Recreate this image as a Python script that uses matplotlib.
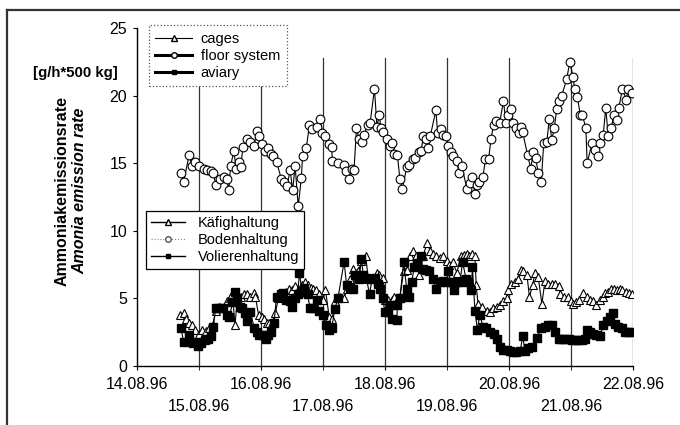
import matplotlib
matplotlib.use("Agg")
import matplotlib.pyplot as plt
from matplotlib.lines import Line2D

plt.rcParams['font.family'] = ['Liberation Sans', 'DejaVu Sans']

# day tick positions (day of August 1996) and labels
day_ticks = [14, 15, 16, 17, 18, 19, 20, 21, 22]
day_labels = ['14.08.96', '15.08.96', '16.08.96', '17.08.96', '18.08.96',
              '19.08.96', '20.08.96', '21.08.96', '22.08.96']
y_ticks = [0, 5, 10, 15, 20, 25]

# floor system (Bodenhaltung)
floor_x = [14.71, 14.75, 14.84, 14.89, 14.94, 15.00, 15.08, 15.13, 15.19, 15.23,
           15.27, 15.34, 15.40, 15.45, 15.48, 15.51, 15.56, 15.60, 15.64, 15.67,
           15.71, 15.77, 15.83, 15.89, 15.93, 15.97, 16.02, 16.06, 16.12, 16.16,
           16.20, 16.25, 16.33, 16.37, 16.42, 16.47, 16.51, 16.55, 16.60, 16.65,
           16.67, 16.73, 16.78, 16.83, 16.90, 16.95, 16.99, 17.04, 17.10, 17.14,
           17.15, 17.24, 17.34, 17.37, 17.42, 17.46, 17.50, 17.54, 17.58, 17.63,
           17.66, 17.72, 17.76, 17.83, 17.87, 17.91, 17.93, 17.97, 18.03, 18.08,
           18.12, 18.15, 18.20, 18.24, 18.28, 18.35, 18.39, 18.45, 18.49, 18.55,
           18.58, 18.62, 18.66, 18.70, 18.73, 18.82, 18.85, 18.90, 18.94, 18.98,
           19.02, 19.06, 19.10, 19.16, 19.19, 19.24, 19.32, 19.37, 19.41, 19.45,
           19.48, 19.52, 19.58, 19.62, 19.67, 19.71, 19.75, 19.79, 19.85, 19.91,
           19.95, 19.99, 20.03, 20.07, 20.11, 20.16, 20.19, 20.22, 20.30, 20.35,
           20.39, 20.43, 20.47, 20.52, 20.56, 20.61, 20.65, 20.69, 20.73, 20.77,
           20.81, 20.85, 20.93, 20.98, 21.03, 21.06, 21.10, 21.15, 21.18, 21.24,
           21.26, 21.34, 21.39, 21.43, 21.47, 21.52, 21.56, 21.60, 21.65, 21.69,
           21.74, 21.77, 21.83, 21.89, 21.92, 21.98]
floor_y = [14.3, 13.6, 15.6, 14.8, 15.1, 14.8, 14.6, 14.5, 14.4, 14.3,
           13.4, 13.8, 14.0, 13.8, 13.0, 14.8, 15.9, 14.6, 15.1, 14.7,
           16.2, 16.8, 16.6, 16.3, 17.4, 17.0, 16.4, 15.9, 16.1, 15.7,
           15.5, 15.1, 13.8, 13.6, 13.3, 14.5, 13.0, 14.8, 11.8, 13.9,
           15.5, 16.1, 17.8, 17.5, 17.7, 18.3, 17.2, 17.0, 16.4, 16.2,
           15.2, 15.0, 14.9, 14.4, 13.8, 14.6, 14.5, 17.6, 16.8, 16.6,
           17.1, 17.8, 18.0, 20.5, 17.7, 18.6, 17.6, 17.3, 16.8, 16.3,
           16.5, 15.7, 15.6, 13.8, 13.1, 14.7, 14.9, 15.3, 15.4, 15.8,
           15.9, 17.0, 16.8, 16.1, 17.0, 18.9, 17.2, 17.5, 17.1, 17.0,
           16.3, 15.8, 15.5, 15.2, 14.3, 14.8, 13.1, 13.5, 14.0, 12.7,
           13.4, 13.6, 14.0, 15.3, 15.3, 16.8, 17.8, 18.1, 18.0, 19.6,
           18.0, 18.6, 19.0, 18.0, 17.6, 17.2, 17.7, 17.3, 15.6, 14.6,
           15.8, 15.4, 14.3, 13.6, 16.5, 16.6, 18.3, 16.7, 17.6, 19.0,
           19.6, 20.0, 21.2, 22.5, 21.4, 20.5, 19.9, 18.6, 18.6, 17.6,
           15.0, 16.5, 16.0, 15.5, 16.5, 17.1, 19.1, 17.0, 17.6, 18.6,
           18.2, 19.1, 20.5, 19.7, 20.5, 20.2]

# cages (Kaefighaltung)
cage_x = [14.69, 14.75, 14.79, 14.84, 14.89, 14.94, 15.00, 15.05, 15.11, 15.16,
          15.22, 15.27, 15.33, 15.38, 15.45, 15.50, 15.54, 15.58, 15.62, 15.67,
          15.73, 15.78, 15.83, 15.88, 15.91, 15.96, 16.01, 16.05, 16.09, 16.13,
          16.18, 16.23, 16.28, 16.33, 16.40, 16.45, 16.50, 16.55, 16.59, 16.66,
          16.71, 16.75, 16.80, 16.84, 16.89, 16.94, 17.00, 17.04, 17.10, 17.15,
          17.19, 17.27, 17.34, 17.38, 17.44, 17.49, 17.57, 17.62, 17.69, 17.73,
          17.81, 17.87, 17.90, 17.97, 18.00, 18.05, 18.11, 18.15, 18.19, 18.24,
          18.30, 18.35, 18.40, 18.45, 18.50, 18.55, 18.61, 18.68, 18.73, 18.77,
          18.82, 18.88, 18.94, 19.00, 19.04, 19.09, 19.16, 19.22, 19.27, 19.32,
          19.36, 19.41, 19.45, 19.47, 19.50, 19.56, 19.64, 19.69, 19.74, 19.80,
          19.85, 19.91, 19.96, 19.99, 20.04, 20.10, 20.15, 20.19, 20.23, 20.29,
          20.33, 20.38, 20.42, 20.47, 20.53, 20.58, 20.63, 20.69, 20.74, 20.80,
          20.83, 20.89, 20.95, 21.00, 21.04, 21.08, 21.13, 21.20, 21.25, 21.31,
          21.36, 21.40, 21.46, 21.51, 21.55, 21.60, 21.64, 21.69, 21.74, 21.79,
          21.83, 21.89, 21.94, 21.98]
cage_y = [3.8, 3.9, 3.5, 3.2, 3.0, 2.7, 2.4, 2.7, 2.6, 2.8,
          3.0, 4.1, 4.4, 4.3, 4.8, 5.0, 5.3, 3.0, 5.1, 5.1,
          5.3, 5.3, 5.1, 5.4, 5.1, 3.8, 3.6, 3.5, 3.2, 3.2,
          3.2, 3.9, 5.0, 5.3, 5.5, 5.7, 5.6, 5.9, 5.6, 6.0,
          6.2, 6.0, 5.8, 5.7, 5.6, 5.3, 4.9, 5.6, 3.6, 3.5,
          4.8, 5.1, 5.0, 5.7, 6.4, 7.2, 7.0, 7.8, 8.1, 6.4,
          6.5, 6.9, 6.7, 6.5, 4.9, 4.9, 4.9, 5.1, 4.9, 5.1,
          7.0, 7.1, 8.1, 8.5, 8.1, 6.7, 8.1, 9.1, 8.5, 8.3,
          8.1, 8.0, 8.1, 7.8, 7.5, 7.7, 6.9, 8.1, 8.2, 8.3,
          8.1, 8.3, 8.1, 6.0, 4.6, 4.4, 4.1, 4.0, 4.3, 4.4,
          4.5, 4.8, 5.0, 5.6, 6.1, 6.2, 6.4, 7.1, 7.0, 6.7,
          5.1, 6.0, 6.9, 6.6, 4.6, 6.3, 6.1, 6.1, 6.1, 5.9,
          5.3, 5.1, 5.1, 4.8, 4.6, 4.7, 4.9, 5.4, 5.1, 4.9,
          4.8, 4.5, 4.9, 5.1, 5.4, 5.5, 5.7, 5.7, 5.6, 5.7,
          5.6, 5.5, 5.4, 5.3]

# aviary (Volierenhaltung)
aviary_x = [14.71, 14.75, 14.84, 14.90, 14.95, 14.99, 15.04, 15.10, 15.15, 15.19,
            15.23, 15.27, 15.33, 15.38, 15.45, 15.49, 15.54, 15.58, 15.62, 15.66,
            15.70, 15.74, 15.78, 15.83, 15.89, 15.93, 15.97, 16.03, 16.08, 16.12,
            16.16, 16.21, 16.25, 16.32, 16.36, 16.41, 16.47, 16.50, 16.55, 16.59,
            16.62, 16.66, 16.69, 16.75, 16.79, 16.84, 16.90, 16.94, 17.00, 17.05,
            17.10, 17.14, 17.19, 17.24, 17.34, 17.38, 17.44, 17.48, 17.52, 17.58,
            17.62, 17.65, 17.70, 17.75, 17.79, 17.84, 17.89, 17.92, 17.96, 18.00,
            18.05, 18.08, 18.12, 18.19, 18.20, 18.24, 18.30, 18.35, 18.39, 18.43,
            18.47, 18.52, 18.58, 18.61, 18.66, 18.71, 18.77, 18.82, 18.88, 18.94,
            19.00, 19.02, 19.06, 19.12, 19.16, 19.21, 19.25, 19.31, 19.34, 19.39,
            19.41, 19.45, 19.49, 19.53, 19.58, 19.63, 19.69, 19.75, 19.80, 19.85,
            19.91, 19.96, 20.02, 20.07, 20.12, 20.18, 20.22, 20.26, 20.31, 20.37,
            20.45, 20.52, 20.58, 20.63, 20.69, 20.74, 20.80, 20.85, 20.90, 20.96,
            21.01, 21.06, 21.12, 21.17, 21.23, 21.25, 21.31, 21.36, 21.41, 21.47,
            21.52, 21.58, 21.63, 21.68, 21.71, 21.76, 21.82, 21.87, 21.92, 21.98]
aviary_y = [2.8, 1.8, 2.3, 1.7, 1.8, 1.5, 1.7, 1.9, 2.0, 2.2,
            2.9, 4.3, 4.3, 4.3, 3.8, 3.6, 4.7, 5.5, 5.0, 4.4,
            4.3, 3.9, 3.3, 4.0, 2.8, 2.5, 2.3, 2.3, 2.0, 2.3,
            2.5, 3.2, 5.1, 5.3, 5.4, 4.9, 4.8, 4.4, 5.0, 5.3,
            6.9, 5.5, 5.8, 5.3, 4.3, 4.3, 4.9, 4.1, 3.8, 3.0,
            2.7, 2.8, 4.2, 5.0, 7.7, 6.0, 5.8, 5.7, 6.7, 6.4,
            7.9, 6.7, 6.5, 5.3, 6.4, 6.5, 6.1, 5.7, 5.0, 4.0,
            4.0, 4.5, 3.5, 3.4, 4.5, 5.0, 7.7, 5.7, 5.1, 6.2,
            7.3, 7.6, 8.1, 7.2, 7.1, 7.0, 6.4, 5.7, 6.2, 6.3,
            6.2, 7.0, 6.2, 5.6, 6.2, 6.2, 7.7, 6.4, 6.2, 5.6,
            7.3, 4.1, 2.7, 3.8, 2.9, 2.8, 2.5, 2.4, 2.0, 1.4,
            1.2, 1.2, 1.1, 1.0, 1.0, 1.1, 2.2, 1.1, 1.3, 1.4,
            2.1, 2.8, 2.9, 3.0, 3.0, 2.5, 2.0, 2.0, 2.0, 2.0,
            1.9, 1.9, 1.9, 1.9, 2.0, 2.7, 2.5, 2.4, 2.3, 2.2,
            3.0, 3.3, 3.6, 3.9, 3.1, 2.9, 2.8, 2.5, 2.5, 2.5]

fig = plt.figure(figsize=(6.8, 4.25), dpi=100)
ax = fig.add_axes([0.2015, 0.1388, 0.7294, 0.7953])

# day separators
for d in day_ticks[1:]:
    ax.axvline(d, ymin=0, ymax=0.911, color='#333333', lw=0.9, zorder=1)

ax.plot(floor_x, floor_y, color='black', lw=0.8, marker='o', ms=6.3,
        mfc='white', mec='black', mew=0.8, zorder=3)
ax.plot(cage_x, cage_y, color='black', lw=0.8, marker='^', ms=6.3,
        mfc='white', mec='black', mew=0.8, zorder=3)
ax.plot(aviary_x, aviary_y, color='black', lw=0.8, marker='s', ms=5.8,
        mfc='black', mec='black', zorder=4)

ax.set_xlim(14, 22)
ax.set_ylim(0, 25)
ax.set_yticks(y_ticks)
ax.set_yticklabels([str(v) for v in y_ticks], fontsize=11.5)

# staggered date labels: even days on first row, odd days on second row
ax.set_xticks(day_ticks[::2])
ax.set_xticklabels(day_labels[::2], fontsize=11.5)
ax.set_xticks(day_ticks[1::2], minor=True)
ax.set_xticklabels(day_labels[1::2], minor=True, fontsize=11.5)
ax.tick_params(axis='x', which='major', length=3, pad=5)
ax.tick_params(axis='x', which='minor', length=3, pad=21)
ax.tick_params(axis='y', length=3, pad=4)

for s in ['top', 'right']:
    ax.spines[s].set_visible(False)
for s in ['left', 'bottom']:
    ax.spines[s].set_linewidth(1.0)

# English legend (dotted frame)
en_handles = [
    Line2D([], [], color='black', lw=0.8, marker='^', ms=4, mfc='white', mec='black'),
    Line2D([], [], color='black', lw=2.2, marker='o', ms=4, mfc='white', mec='black'),
    Line2D([], [], color='black', lw=2.2, marker='s', ms=3.5, mfc='black', mec='black'),
]
leg1 = ax.legend(en_handles, ['cages', 'floor system', 'aviary'],
                 loc='upper left', bbox_to_anchor=(0.024, 1.008),
                 fontsize=10.5, frameon=True, fancybox=False, framealpha=1,
                 edgecolor='#555555', handlelength=2.5, handletextpad=0.6,
                 labelspacing=0.2, borderpad=0.45, borderaxespad=0)
leg1.get_frame().set_linestyle(':')
leg1.get_frame().set_linewidth(0.9)
leg1.set_zorder(5)
ax.add_artist(leg1)

# German legend (solid frame)
de_handles = [
    Line2D([], [], color='black', lw=1.0, marker='^', ms=4, mfc='white', mec='black'),
    Line2D([], [], color='#888888', lw=0.8, ls=':', marker='o', ms=4, mfc='white', mec='#555555'),
    Line2D([], [], color='black', lw=1.0, marker='s', ms=3.5, mfc='black', mec='black'),
]
leg2 = ax.legend(de_handles, ['Käfighaltung', 'Bodenhaltung', 'Volierenhaltung'],
                 loc='upper left', bbox_to_anchor=(0.018, 0.459),
                 fontsize=10.5, frameon=True, fancybox=False, framealpha=1,
                 edgecolor='black', handlelength=2.3, handletextpad=0.9,
                 labelspacing=0.2, borderpad=0.35, borderaxespad=0)
leg2.get_frame().set_linewidth(0.9)
leg2.set_zorder(5)

# axis titles
fig.text(0.091, 0.551, 'Ammoniakemissionsrate', rotation=90, ha='center',
         va='center', fontsize=11.5, fontweight='bold')
fig.text(0.117, 0.551, 'Amonia emission rate', rotation=90, ha='center',
         va='center', fontsize=11.5, fontweight='bold', fontstyle='italic')
fig.text(33 / 680, 1 - 73 / 425, '[g/h*500 kg]', ha='left', va='center',
         fontsize=10.8, fontweight='bold')

# outer frame of the scanned figure
fig.add_artist(Line2D([7 / 680, 1.0], [1 - 10 / 425, 1 - 10 / 425],
                      transform=fig.transFigure, color='#333333', lw=1.6))
fig.add_artist(Line2D([7 / 680, 7 / 680], [0.0, 1 - 10 / 425],
                      transform=fig.transFigure, color='#333333', lw=1.6))

fig.savefig('out.png', dpi=100)
